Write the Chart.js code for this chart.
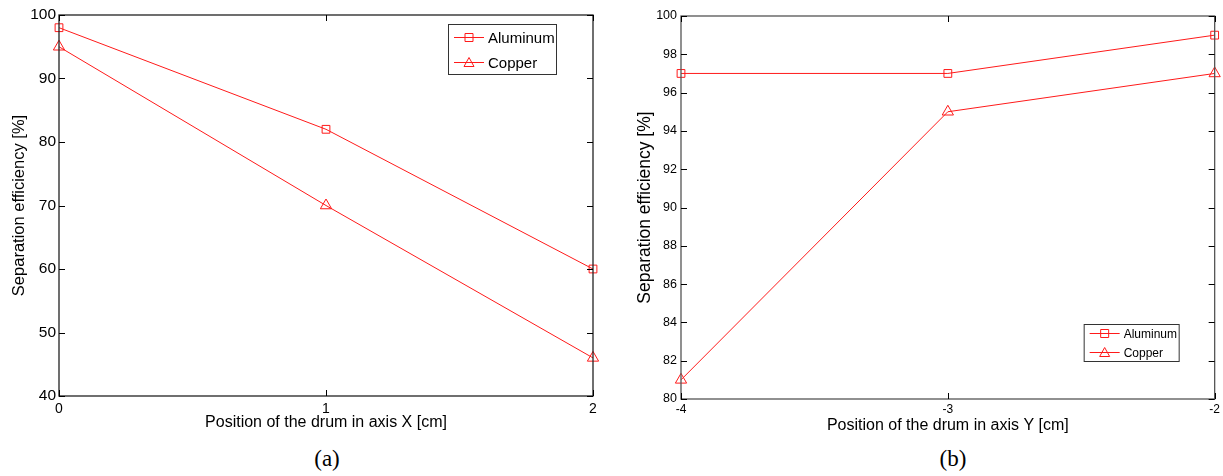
<!DOCTYPE html>
<html>
<head>
<meta charset="utf-8">
<script src="https://cdn.jsdelivr.net/npm/chart.js@4.4.0/dist/chart.umd.min.js"></script>
<style>
  body { margin: 0; background: #fff; width: 1223px; height: 476px; position: relative; overflow: hidden; }
  .box { position: absolute; top: 0; height: 440px; }
  .cap { position: absolute; top: 446px; font-family: "Liberation Serif", serif; font-size: 23px; color: #000; transform: translateX(-50%); }
</style>
</head>
<body>
<div class="box" style="left:0;width:611px"><canvas id="chartA"></canvas></div>
<div class="box" style="left:611px;width:612px"><canvas id="chartB"></canvas></div>
<div class="cap" style="left:327px">(a)</div>
<div class="cap" style="left:953px">(b)</div>
<script>
'use strict';
// chart (a)
let posX = [0, 1, 2];
let aluminumA = [98, 82, 60];
let copperA = [95, 70, 46];
let ticksYA = [40, 50, 60, 70, 80, 90, 100];

// chart (b)
let posY = [-4, -3, -2];
let aluminumB = [97, 97, 99];
let copperB = [81, 95, 97];
let ticksYB = [80, 82, 84, 86, 88, 90, 92, 94, 96, 98, 100];

let seriesNames = ['Aluminum', 'Copper'];
let sans = '"Liberation Sans", Arial, sans-serif';

// matlab style box + inward ticks
let boxPlugin = {
    id: 'boxTicks',
    afterDraw(chart, args, opts) {
        let ctx = chart.ctx;
        let a = chart.chartArea;
        let sx = chart.scales.x, sy = chart.scales.y;
        ctx.save();
        ctx.strokeStyle = opts.color;
        ctx.lineWidth = 1.3;
        ctx.strokeRect(a.left, a.top, a.right - a.left, a.bottom - a.top);
        ctx.lineWidth = 1;
        ctx.strokeStyle = '#000';
        ctx.beginPath();
        sx.ticks.forEach(t => {
            let px = Math.round(sx.getPixelForValue(t.value)) + 0.5;
            ctx.moveTo(px, a.bottom); ctx.lineTo(px, a.bottom - 6);
            ctx.moveTo(px, a.top); ctx.lineTo(px, a.top + 6);
        });
        sy.ticks.forEach(t => {
            let py = Math.round(sy.getPixelForValue(t.value)) + 0.5;
            ctx.moveTo(a.left, py); ctx.lineTo(a.left + 6, py);
            ctx.moveTo(a.right, py); ctx.lineTo(a.right - 6, py);
        });
        ctx.stroke();
        ctx.restore();
    }
};

let legendPlugin = {
    id: 'boxLegend',
    afterDraw(chart, args, o) {
        let ctx = chart.ctx;
        let a = chart.chartArea;
        let x = a.right - o.right - o.w;
        let y = o.top != null ? a.top + o.top : a.bottom - o.bottom - o.h;
        ctx.save();
        ctx.fillStyle = '#fff';
        ctx.fillRect(x, y, o.w, o.h);
        ctx.strokeStyle = '#333';
        ctx.lineWidth = 1;
        ctx.strokeRect(x + 0.5, y + 0.5, o.w, o.h);
        ctx.font = o.font;
        ctx.textBaseline = 'middle';
        chart.data.datasets.forEach((ds, i) => {
            let ly = Math.round(y + o.h * (i * 2 + 1) / 4) + 0.5;
            ctx.strokeStyle = ds.borderColor;
            ctx.beginPath();
            ctx.moveTo(x + 6, ly); ctx.lineTo(x + 6 + o.line, ly);
            ctx.stroke();
            let cx = x + 6 + o.line / 2, r = o.r;
            ctx.beginPath();
            if (ds.pointStyle === 'rect') {
                ctx.rect(cx - r, ly - r, r * 2, r * 2);
            } else {
                ctx.moveTo(cx, ly - r - 1); ctx.lineTo(cx + r + 1, ly + r); ctx.lineTo(cx - r - 1, ly + r); ctx.closePath();
            }
            ctx.stroke();
            ctx.fillStyle = '#000';
            ctx.fillText(seriesNames[i], x + 10 + o.line, ly + 1);
        });
        ctx.restore();
    }
};

function makeChart(id, xs, al, cu, yTicks, cfg) {
    let ctx = document.getElementById(id).getContext('2d');
    let yMin = yTicks[0], yMax = yTicks[yTicks.length - 1];
    return new Chart(ctx, {
        type: 'line',
        data: {
            datasets: [{
                label: seriesNames[0],
                data: xs.map((x, i) => ({ x: x, y: al[i] })),
                borderColor: '#ff1a1a', borderWidth: 1,
                pointStyle: 'rect', pointRadius: 5.5, pointBorderWidth: 1,
                pointBackgroundColor: 'rgba(0,0,0,0)', pointBorderColor: '#ff1a1a',
                clip: false
            }, {
                label: seriesNames[1],
                data: xs.map((x, i) => ({ x: x, y: cu[i] })),
                borderColor: '#ff1a1a', borderWidth: 1,
                pointStyle: 'triangle', pointRadius: 6.5, pointBorderWidth: 1,
                pointBackgroundColor: 'rgba(0,0,0,0)', pointBorderColor: '#ff1a1a',
                clip: false
            }]
        },
        options: {
            responsive: true,
            maintainAspectRatio: false,
            animation: false,
            events: [],
            layout: { padding: { left: 0, top: cfg.top, right: cfg.right, bottom: 0 } },
            plugins: {
                legend: { display: false },
                tooltip: { enabled: false },
                boxTicks: { color: cfg.boxColor },
                boxLegend: cfg.legend
            },
            scales: {
                x: {
                    type: 'linear', min: xs[0], max: xs[xs.length - 1],
                    afterBuildTicks: s => { s.ticks = xs.map(v => ({ value: v })); },
                    grid: { display: false, drawTicks: false }, border: { display: false },
                    ticks: { color: '#000', font: { family: sans, size: cfg.xTickSize }, padding: cfg.xPad, maxRotation: 0 },
                    title: { display: true, text: cfg.xTitle, color: '#000', font: { family: sans, size: cfg.xTitleSize }, padding: { top: 0, bottom: cfg.xTitlePad } },
                    afterFit: s => { s.height = cfg.xh; }
                },
                y: {
                    min: yMin, max: yMax,
                    afterBuildTicks: s => { s.ticks = yTicks.map(v => ({ value: v })); },
                    grid: { display: false, drawTicks: false }, border: { display: false },
                    ticks: { color: '#000', font: { family: sans, size: cfg.yTickSize }, padding: cfg.yPad },
                    title: { display: true, text: 'Separation efficiency [%]', color: '#000', font: { family: sans, size: cfg.yTitleSize }, padding: { top: cfg.yTitlePad, bottom: 0 } },
                    afterFit: s => { s.width = cfg.yw; }
                }
            }
        },
        plugins: [boxPlugin, legendPlugin]
    });
}

makeChart('chartA', posX, aluminumA, copperA, ticksYA, {
    top: 15, right: 18, xh: 44, yw: 59,
    xTickSize: 14, yTickSize: 15.5, xPad: 5, yPad: 3,
    xTitleSize: 16, xTitlePad: 8, yTitleSize: 16.5, yTitlePad: 10,
    xTitle: 'Position of the drum in axis X [cm]', boxColor: '#222',
    legend: { w: 108, h: 50, right: 37, top: 9, line: 30, r: 4, font: '15px ' + sans }
});

makeChart('chartB', posY, aluminumB, copperB, ticksYB, {
    top: 16, right: 6, xh: 41, yw: 70,
    xTickSize: 12, yTickSize: 12.5, xPad: 3, yPad: 4,
    xTitleSize: 16, xTitlePad: 5, yTitleSize: 17.5, yTitlePad: 24,
    xTitle: 'Position of the drum in axis Y [cm]', boxColor: '#555',
    legend: { w: 95, h: 37, right: 36, bottom: 38, line: 30, r: 4, font: '12px ' + sans }
});
</script>
</body>
</html>
